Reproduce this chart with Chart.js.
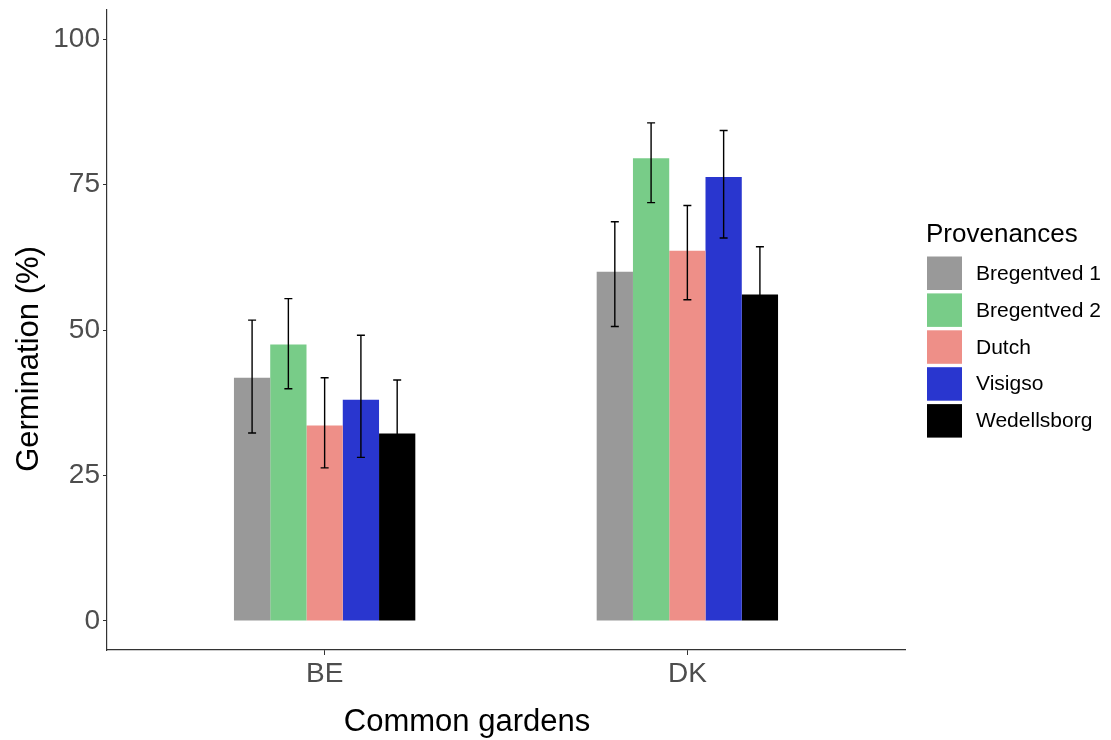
<!DOCTYPE html>
<html>
<head>
<meta charset="utf-8">
<script src="https://cdn.jsdelivr.net/npm/chart.js@4.4.1/dist/chart.umd.min.js"></script>
<style>
  html, body { margin: 0; padding: 0; background: #ffffff; }
  #wrap { width: 1111px; height: 740px; position: relative; }
</style>
</head>
<body>
<div id="wrap"><canvas id="c" width="1111" height="740"></canvas></div>
<script>
// ---- Data ----
const categories = ['BE', 'DK'];
const provenances = ['Bregentved 1', 'Bregentved 2', 'Dutch', 'Visigso', 'Wedellsborg'];
const colors = ['#999999', '#78CC88', '#EE8F88', '#2936CF', '#000000'];

// mean germination (%) per provenance, in order BE, DK
const bregentved1 = [41.8, 60.0];
const bregentved2 = [47.5, 79.5];
const dutch       = [33.6, 63.6];
const visigso     = [38.0, 76.3];
const wedellsborg = [32.2, 56.1];

// error bar limits per provenance, in order BE, DK
const lowBregentved1 = [32.3, 50.6];
const highBregentved1 = [51.7, 68.6];
const lowBregentved2 = [39.9, 71.9];
const highBregentved2 = [55.4, 85.6];
const lowDutch = [26.3, 55.2];
const highDutch = [41.8, 71.4];
const lowVisigso = [28.1, 65.8];
const highVisigso = [49.1, 84.3];
const lowWedellsborg = [23.0, 47.9];
const highWedellsborg = [41.4, 64.3];

const yTicks = [0, 25, 50, 75, 100];
const xTitle = 'Common gardens';
const yTitle = 'Germination (%)';
const legendTitle = 'Provenances';

const means = [bregentved1, bregentved2, dutch, visigso, wedellsborg];
const lows = [lowBregentved1, lowBregentved2, lowDutch, lowVisigso, lowWedellsborg];
const highs = [highBregentved1, highBregentved2, highDutch, highVisigso, highWedellsborg];

const FONT = '"Liberation Sans", Arial, Helvetica, sans-serif';

const datasets = provenances.map((p, i) => ({
  label: p,
  data: categories.map((c, j) => ({ x: j + 1, y: means[i][j] })),
  backgroundColor: colors[i],
  borderWidth: 0,
  categoryPercentage: 0.5,
  barPercentage: 1.0
}));

const errorBars = {
  id: 'errorBars',
  afterDatasetsDraw(chart) {
    const ctx = chart.ctx;
    const ys = chart.scales.y;
    ctx.save();
    ctx.strokeStyle = '#000000';
    ctx.lineWidth = 1.4;
    provenances.forEach((p, i) => {
      const meta = chart.getDatasetMeta(i);
      meta.data.forEach((bar, j) => {
        const x = bar.x;
        const yl = ys.getPixelForValue(lows[i][j]);
        const yh = ys.getPixelForValue(highs[i][j]);
        const cw = 4;
        ctx.beginPath();
        ctx.moveTo(x, yl); ctx.lineTo(x, yh);
        ctx.moveTo(x - cw, yl); ctx.lineTo(x + cw, yl);
        ctx.moveTo(x - cw, yh); ctx.lineTo(x + cw, yh);
        ctx.stroke();
      });
    });
    ctx.restore();
  }
};

const titlesAndLegend = {
  id: 'titlesAndLegend',
  afterDraw(chart) {
    const ctx = chart.ctx;
    ctx.save();
    // axis titles
    ctx.fillStyle = '#000000';
    ctx.font = '31px ' + FONT;
    ctx.textAlign = 'center';
    ctx.textBaseline = 'middle';
    ctx.fillText(xTitle, 467, 722);
    ctx.save();
    ctx.translate(29, 359);
    ctx.rotate(-Math.PI / 2);
    ctx.fillText(yTitle, 0, 0);
    ctx.restore();

    // legend
    ctx.font = '26px ' + FONT;
    ctx.textAlign = 'left';
    ctx.textBaseline = 'alphabetic';
    ctx.fillText(legendTitle, 926, 242);
    const x0 = 927, y0 = 256.5, step = 36.9, size = 35;
    ctx.font = '21px ' + FONT;
    ctx.textBaseline = 'middle';
    provenances.forEach((p, i) => {
      const y = y0 + i * step;
      ctx.fillStyle = colors[i];
      ctx.fillRect(x0, y, size, size - 1.5);
      ctx.fillStyle = '#000000';
      ctx.fillText(p, 976, y + size / 2);
    });
    ctx.restore();
  }
};

new Chart(document.getElementById('c'), {
  type: 'bar',
  data: { datasets },
  plugins: [errorBars, titlesAndLegend],
  options: {
    responsive: false,
    animation: false,
    devicePixelRatio: 1,
    layout: { padding: { left: 0, right: 206, top: 10, bottom: 0 } },
    plugins: { legend: { display: false }, tooltip: { enabled: false } },
    scales: {
      x: {
        type: 'linear',
        min: 0.4,
        max: 2.6,
        offset: false,
        grid: { display: true, offset: false, drawOnChartArea: false, drawTicks: true, tickLength: 5, color: '#333333' },
        border: { display: true, color: '#333333', width: 1.2 },
        afterBuildTicks(scale) { scale.ticks = categories.map((c, j) => ({ value: j + 1 })); },
        ticks: {
          autoSkip: false,
          maxRotation: 0,
          padding: 2,
          color: '#4D4D4D',
          font: { family: FONT, size: 28 },
          callback: (v) => categories[Math.round(v) - 1]
        },
        title: { display: false },
        afterFit(scale) { scale.height = 90; scale.paddingLeft = 0; scale.paddingRight = 0; }
      },
      y: {
        type: 'linear',
        min: -5,
        max: 105,
        grid: { display: true, drawOnChartArea: false, drawTicks: true, tickLength: 4, color: '#333333' },
        border: { display: true, color: '#333333', width: 1.2 },
        afterBuildTicks(scale) { scale.ticks = yTicks.map(v => ({ value: v })); },
        ticks: {
          padding: 3,
          color: '#4D4D4D',
          font: { family: FONT, size: 28 }
        },
        title: { display: false },
        afterFit(scale) { scale.width = 107; scale.paddingTop = 0; scale.paddingBottom = 0; }
      }
    }
  }
});
</script>
</body>
</html>
